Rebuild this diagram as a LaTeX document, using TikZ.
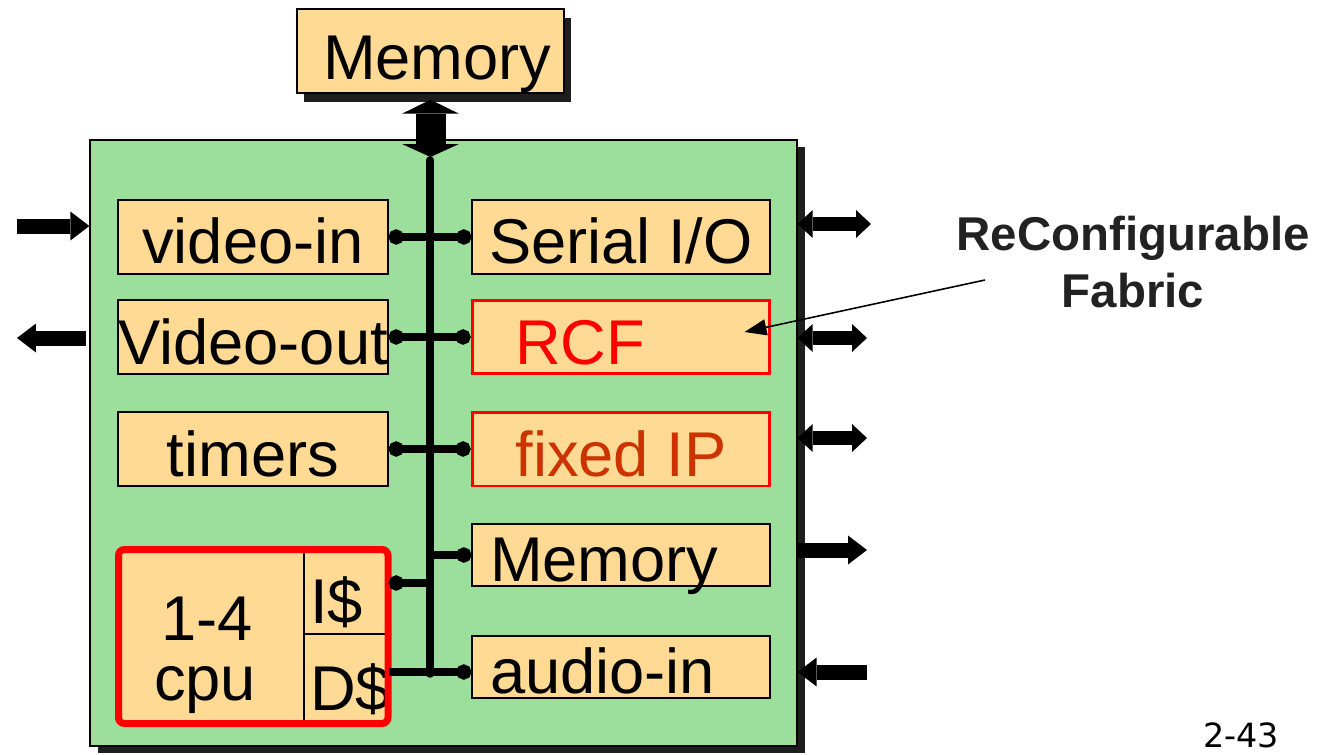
\documentclass[tikz,border=0pt]{standalone}
\usepackage{fontspec}
\setmainfont{Liberation Sans}
\newfontfamily\slidefont{DejaVu Sans}
\usetikzlibrary{arrows.meta, shadows}
\definecolor{blockfill}{HTML}{FFDA94}
\definecolor{chipgreen}{HTML}{9CDE9C}
\definecolor{ipred}{HTML}{FF0000}
\definecolor{iporange}{HTML}{CC3300}
\definecolor{notegray}{HTML}{222222}
\definecolor{shadowgray}{HTML}{1E1E1E}

\begin{document}
\begin{tikzpicture}[x=0.02cm, y=-0.02cm, every node/.style={inner sep=0pt}]
\tikzstyle{big text}=[font=\fontsize{36}{40}\selectfont]
\tikzstyle{block}=[draw, line width=0.8pt, fill=blockfill, big text, text height=1.28cm, text depth=0.2cm]
\tikzstyle{left block}=[block, minimum width=5.4cm]
\tikzstyle{right block}=[block, minimum width=5.96cm]
\tikzstyle{short block}=[right block, text height=1.14cm, text depth=0.1cm, text width=5.24cm, align=left, inner xsep=0.36cm]
\tikzstyle{ip block}=[right block, draw=red, line width=0.06cm]
\tikzstyle{cache cell}=[block, text width=1.44cm, align=left, inner xsep=0.12cm]
\tikzstyle{tap}=[line width=0.15cm, {Circle[length=0.3cm]}-{Circle[length=0.3cm]}]
\tikzstyle{half tap}=[line width=0.15cm, -{Circle[length=0.3cm]}]
\tikzstyle{fat arrow}=[line width=0.3cm, -{Triangle[width=0.58cm, length=0.38cm, line width=0pt]}]
\tikzstyle{fat double}=[line width=0.28cm, {Triangle[width=0.56cm, length=0.3cm, line width=0pt]}-{Triangle[width=0.56cm, length=0.3cm, line width=0pt]}]
\tikzstyle{mem arrow}=[line width=0.6cm, {Triangle[width=1.14cm, length=0.28cm, line width=0pt]}-{Triangle[width=1.14cm, length=0.26cm, line width=0pt]}]

\useasboundingbox (0,0) rectangle (1332,754);

% chip and external memory
\node[draw, line width=0.8pt, fill=chipgreen, minimum width=14.14cm, minimum height=12.12cm,
  drop shadow={shadow xshift=0.16cm, shadow yshift=-0.14cm, fill=shadowgray, opacity=1}] (chip) at (443.5,443) {};
\node[block, minimum width=5.34cm, text height=1.42cm, text depth=0.26cm, text width=4.3cm, align=left, inner xsep=0.52cm,
  drop shadow={shadow xshift=0.14cm, shadow yshift=-0.18cm, fill=shadowgray, opacity=1}] (memtop) at (430.5,51) {Memory};

% blocks on the bus
\node[left block] (vin) at (253,237) {video-in};
\node[left block] (vout) at (253,337) {Video-out};
\node[left block] (timers) at (253,449) {timers};
\node[right block] (sio) at (621,237) {Serial I/O};
\node[ip block, text=ipred, text width=4.24cm, align=left, inner xsep=0.86cm] (rcf) at (621,337) {RCF};
\node[ip block, text=iporange] (fixip) at (621,449) {fixed IP};
\node[short block] (mem) at (621,555) {Memory};
\node[short block] (ain) at (621,667) {audio-in};

% cpu with caches
\node[block, minimum width=3.72cm, minimum height=3.44cm] (cpu) at (211,636) {};
\node[big text, anchor=base] (cpunum) at (207,640) {1-4};
\node[big text, anchor=base] (cpulbl) at (205,700) {cpu};
\node[cache cell, text height=1.46cm, text depth=0.22cm] (icache) at (346,592) {I\$};
\node[cache cell, text height=1.52cm, text depth=0.24cm] (dcache) at (346,678) {D\$};
\draw[red, line width=0.14cm, rounded corners=0.12cm] (118.5,549.5) rectangle (388,723.5);

% bus
\coordinate (bustop) at (430,160);
\coordinate (busbot) at (430,674);
\coordinate (busin) at (430,157);
\draw[line width=0.15cm, line cap=round] (bustop) -- (busbot);
\draw[mem arrow] ([yshift=-0.12cm]memtop.south) -- (memtop.south |- busin);

\draw[tap] (vin.east) -- (sio.west);
\draw[tap] (vout.east) -- (rcf.west);
\draw[tap] (timers.east) -- (fixip.west);
\draw[half tap] (mem.west -| bustop) -- (mem.west);
\coordinate (itap) at ([yshift=0.18cm]icache.east);
\coordinate (dtap) at ([yshift=0.12cm]dcache.east);
\draw[half tap] (itap -| bustop) -- (itap);
\draw[half tap] (dtap) -- (dtap -| ain.west);

% pins
\coordinate (vinsrc) at (17,226);
\coordinate (voutdst) at (17,338);
\coordinate (sioport) at (871,224);
\coordinate (rcfport) at (867,338);
\coordinate (ipport) at (867,438);
\coordinate (memport) at (867,550);
\coordinate (ainport) at (867,672);
\draw[fat arrow] (vinsrc) -- (vinsrc -| chip.west);
\draw[fat arrow, shorten <=0.06cm] (voutdst -| chip.west) -- (voutdst);
\draw[fat double] (sioport -| chip.east) -- (sioport);
\draw[fat double] (rcfport -| chip.east) -- (rcfport);
\draw[fat double] (ipport -| chip.east) -- (ipport);
\draw[fat arrow] (memport -| chip.east) -- (memport);
\draw[fat arrow] (ainport) -- (ainport -| chip.east);

% note
\node[anchor=base, font=\fontsize{27}{32}\selectfont\bfseries, text=notegray] (note) at (1133,250) {ReConfigurable};
\node[anchor=base, font=\fontsize{27}{32}\selectfont\bfseries, text=notegray] (note2) at (1133,307) {Fabric};
\coordinate (notetail) at (985,280);
\draw[line width=0.9pt, -{Triangle[length=0.44cm, width=0.32cm]}] (notetail) -- ([shift={(-0.54cm,0.1cm)}]rcf.east);

\node[anchor=base west, font=\slidefont\fontsize{19}{22}\selectfont] (pagenum) at (1203,747) {2-43};
\end{tikzpicture}
\end{document}
